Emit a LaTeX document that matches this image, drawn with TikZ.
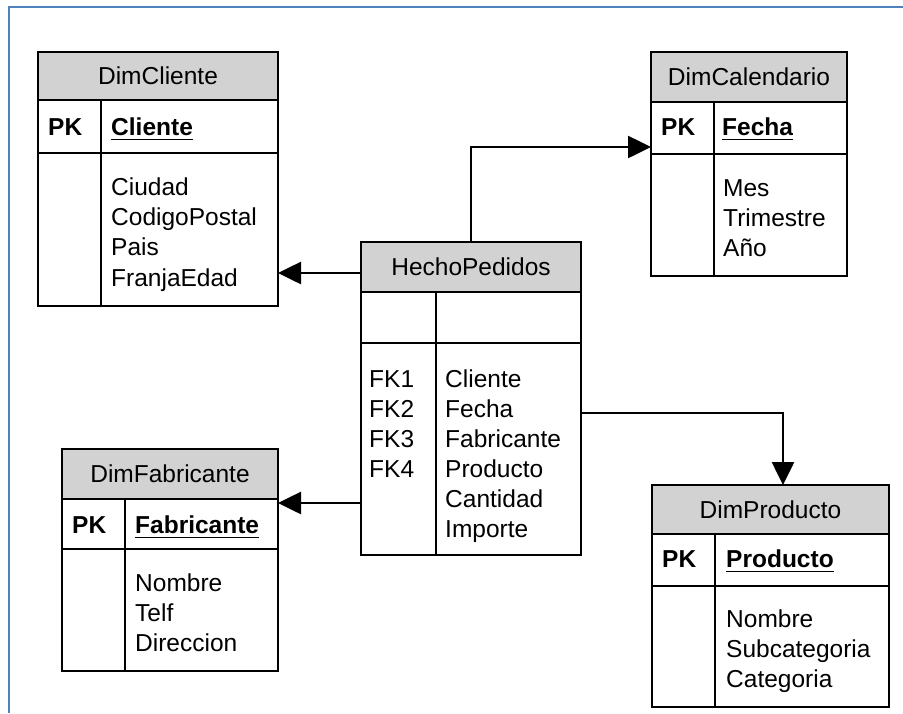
\documentclass[tikz,border=0pt]{standalone}
\usepackage{fontspec}
\setmainfont{Liberation Sans}
\usetikzlibrary{arrows.meta}
\definecolor{framecol}{RGB}{79,129,189}
\definecolor{hdrgray}{RGB}{210,210,210}
\begin{document}
\begin{tikzpicture}[x=1pt,y=-1pt,
  tablefont/.style={font=\fontsize{24.5}{30}\selectfont},
  hdr/.style={draw, fill=hdrgray, line width=2.2pt, anchor=north west,
    inner sep=0pt, outer sep=0pt, text height=17.5pt, text depth=0pt, tablefont},
  tbody/.style={draw, line width=2.2pt, anchor=north west, inner sep=0pt, outer sep=0pt},
  rowrule/.style={line width=2pt},
  keytxt/.style={anchor=base west, inner sep=0pt, font=\fontsize{24.5}{30}\selectfont\bfseries},
  attr/.style={anchor=base west, inner sep=0pt, tablefont},
  ulrule/.style={line width=1.8pt},
  conn/.style={line width=2.6pt, -{Triangle[length=23pt,width=22pt]}},
  frameline/.style={draw=framecol, line width=2pt}
]
\useasboundingbox (0,0) rectangle (903,713);
\draw[frameline] (9,713) -- (9,7) -- (903,7);

% ---------- DimCliente ----------
\node[hdr, minimum width=240, minimum height=48] (cl-h) at (38,52) {DimCliente};
\node[tbody, minimum width=240, minimum height=206] (cl) at (38,100) {};
\draw[rowrule] (cl.west |- 0,153) -- (cl.east |- 0,153);
\draw[rowrule] (101,0 |- cl.north) -- (101,0 |- cl.south);
\node[keytxt] (cl-pk) at (48,135) {PK};
\node[keytxt] (cl-k) at (111,135) {Cliente};
\draw[ulrule] ([yshift=-4.5pt]cl-k.base west) -- ([yshift=-4.5pt]cl-k.base east);
\foreach \t [count=\i] in {Ciudad,CodigoPostal,Pais,FranjaEdad}
  \node[attr] (cl-a\i) at (111,{165+30.3*\i}) {\t};

% ---------- DimCalendario ----------
\node[hdr, minimum width=196, minimum height=50] (ca-h) at (651,52) {DimCalendario};
\node[tbody, minimum width=196, minimum height=174] (ca) at (651,102) {};
\draw[rowrule] (ca.west |- 0,154) -- (ca.east |- 0,154);
\draw[rowrule] (714,0 |- ca.north) -- (714,0 |- ca.south);
\node[keytxt] (ca-pk) at (661,135) {PK};
\node[keytxt] (ca-k) at (722,135) {Fecha};
\draw[ulrule] ([yshift=-4.5pt]ca-k.base west) -- ([yshift=-4.5pt]ca-k.base east);
\foreach \t [count=\i] in {Mes,Trimestre,Año}
  \node[attr] (ca-a\i) at (723,{166+30.3*\i}) {\t};

% ---------- HechoPedidos ----------
\node[hdr, minimum width=220, minimum height=50] (he-h) at (361,242) {HechoPedidos};
\node[tbody, minimum width=220, minimum height=263] (he) at (361,292) {};
\draw[rowrule] (he.west |- 0,343) -- (he.east |- 0,343);
\draw[rowrule] (436,0 |- he.north) -- (436,0 |- he.south);
\foreach \t [count=\i] in {FK1,FK2,FK3,FK4}
  \node[attr] (he-f\i) at (369,{357+30*\i}) {\t};
\foreach \t [count=\i] in {Cliente,Fecha,Fabricante,Producto,Cantidad,Importe}
  \node[attr] (he-a\i) at (445,{357+30*\i}) {\t};

% ---------- DimFabricante ----------
\node[hdr, minimum width=216, minimum height=50] (fa-h) at (62,449) {DimFabricante};
\node[tbody, minimum width=216, minimum height=172] (fa) at (62,499) {};
\draw[rowrule] (fa.west |- 0,549) -- (fa.east |- 0,549);
\draw[rowrule] (125,0 |- fa.north) -- (125,0 |- fa.south);
\node[keytxt] (fa-pk) at (72,533) {PK};
\node[keytxt] (fa-k) at (135,533) {Fabricante};
\draw[ulrule] ([yshift=-4.5pt]fa-k.base west) -- ([yshift=-4.5pt]fa-k.base east);
\foreach \t [count=\i] in {Nombre,Telf,Direccion}
  \node[attr] (fa-a\i) at (135,{561+30*\i}) {\t};

% ---------- DimProducto ----------
\node[hdr, minimum width=237, minimum height=49] (pr-h) at (652,485) {DimProducto};
\node[tbody, minimum width=237, minimum height=173] (pr) at (652,534) {};
\draw[rowrule] (pr.west |- 0,586) -- (pr.east |- 0,586);
\draw[rowrule] (715,0 |- pr.north) -- (715,0 |- pr.south);
\node[keytxt] (pr-pk) at (662,567) {PK};
\node[keytxt] (pr-k) at (726,567) {Producto};
\draw[ulrule] ([yshift=-4.5pt]pr-k.base west) -- ([yshift=-4.5pt]pr-k.base east);
\foreach \t [count=\i] in {Nombre,Subcategoria,Categoria}
  \node[attr] (pr-a\i) at (726,{597+30*\i}) {\t};

% ---------- relationships ----------
\draw[conn] (he-h.west |- 0,273) -- (cl.east |- 0,273);
\draw[conn] (he-h.north) |- (ca.west |- 0,147);
\draw[conn] (he.east |- 0,413) -| (pr-h.north -| 783,0);
\draw[conn] (he.west |- 0,503) -- (fa.east |- 0,503);
\end{tikzpicture}
\end{document}
